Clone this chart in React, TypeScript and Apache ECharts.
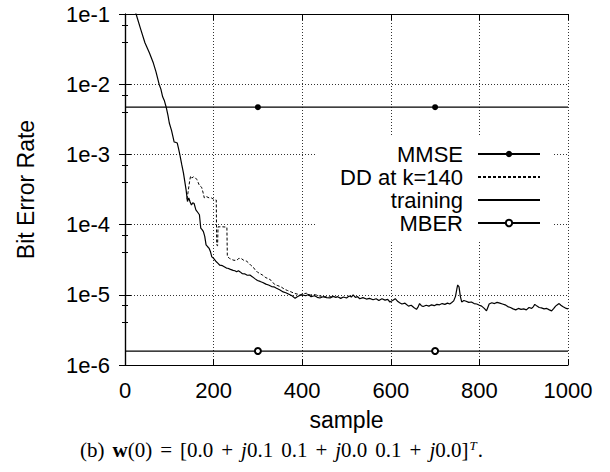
import React, { useEffect, useRef } from "react";
import * as echarts from "echarts";

const seriesNames = ["MMSE", "DD at k=140", "training", "MBER"];
const xTicks = [0, 200, 400, 600, 800, 1000];
const yMin = 1e-6;
const yMax = 1e-1;

const mmseLevel = 0.0047;
const mberLevel = 0.00000158;
const markerSamples = [300, 700];

const training: [number, number][] = [
  [0, 0.3], [12, 0.17], [25, 0.1], [35, 0.062], [45, 0.039], [55, 0.028], [64, 0.02], [70, 0.015],
  [77, 0.01], [81, 0.0085], [85, 0.0066], [89, 0.0058], [93, 0.0047], [97, 0.0036], [100, 0.0028],
  [105, 0.0022], [111, 0.0015], [115, 0.00148], [118, 0.00145], [121, 0.0012], [124, 0.00098],
  [128, 0.00072], [132, 0.00054], [135, 0.00041], [138, 0.00031], [141, 0.000213], [144, 0.00024],
  [147, 0.00021], [150, 0.00019], [153, 0.000205], [156, 0.0002], [160, 0.000162], [164, 0.00015],
  [168, 0.000138], [171, 0.000089], [174, 0.000085], [177, 0.0000795], [180, 0.000068],
  [183, 0.0000513], [187, 0.000048], [190, 0.0000457], [193, 0.000041], [196, 0.0000347],
  [200, 0.000033], [205, 0.0000301], [210, 0.000028], [214, 0.0000264], [220, 0.000026],
  [225, 0.0000249], [229, 0.000024], [232, 0.0000239], [238, 0.000023], [244, 0.0000223],
  [248, 0.000022], [252, 0.0000213], [256, 0.000022], [260, 0.0000212], [265, 0.00002],
  [270, 0.0000199], [276, 0.000019], [282, 0.0000191], [288, 0.000018], [293, 0.000017],
  [299, 0.000016], [305, 0.0000155], [311, 0.000015], [318, 0.0000142], [324, 0.0000138],
  [331, 0.0000131], [336, 0.000013], [342, 0.0000124], [349, 0.0000118], [357, 0.000011],
  [363, 0.0000107], [370, 0.0000102], [377, 0.0000097], [384, 0.0000089], [388, 0.0000093],
  [392, 0.0000096], [396, 0.0000099], [400, 0.00001], [408, 0.0000097], [414, 0.0000101],
  [420, 0.0000094], [428, 0.0000097], [434, 0.0000092], [440, 0.000009], [447, 0.0000094],
  [455, 0.0000091], [463, 0.000009], [470, 0.0000095], [476, 0.0000092], [480, 0.0000094],
  [487, 0.0000089], [493, 0.0000093], [500, 0.000009], [506, 0.0000096], [511, 0.0000093],
  [515, 0.00001], [520, 0.0000092], [525, 0.0000094], [530, 0.0000088], [537, 0.0000091],
  [545, 0.0000087], [552, 0.0000089], [560, 0.0000085], [567, 0.0000088], [573, 0.0000083],
  [580, 0.0000088], [587, 0.0000084], [593, 0.0000086], [598, 0.0000079], [604, 0.0000083],
  [610, 0.0000088], [616, 0.000008], [620, 0.0000077], [625, 0.0000074], [632, 0.0000076],
  [640, 0.0000069], [646, 0.0000071], [652, 0.0000066], [658, 0.0000062], [662, 0.0000068],
  [665, 0.0000075], [669, 0.000007], [673, 0.0000068], [680, 0.0000071], [686, 0.0000069],
  [692, 0.0000072], [698, 0.000007], [704, 0.0000073], [710, 0.0000072], [716, 0.0000075],
  [722, 0.0000073], [728, 0.0000076], [733, 0.0000074], [737, 0.0000077], [742, 0.0000082],
  [746, 0.0000095], [749, 0.000012], [751, 0.0000138], [754, 0.000013], [757, 0.0000095],
  [760, 0.0000079], [765, 0.0000083], [770, 0.0000081], [776, 0.0000078], [782, 0.0000079],
  [788, 0.0000075], [794, 0.0000074], [800, 0.0000071], [805, 0.0000069], [811, 0.0000064],
  [816, 0.0000059], [819, 0.0000066], [822, 0.0000074], [828, 0.0000077], [834, 0.0000075],
  [840, 0.0000078], [846, 0.0000076], [852, 0.0000074], [858, 0.0000072], [864, 0.0000068],
  [870, 0.0000066], [876, 0.0000063], [882, 0.0000061], [888, 0.0000064], [894, 0.0000062],
  [900, 0.0000063], [906, 0.0000061], [912, 0.0000066], [918, 0.0000064], [922, 0.0000068],
  [925, 0.0000073], [930, 0.0000069], [935, 0.0000066], [940, 0.0000065], [946, 0.0000063],
  [952, 0.0000064], [958, 0.0000061], [963, 0.0000059], [968, 0.0000064], [972, 0.0000069],
  [976, 0.0000072], [980, 0.0000075], [984, 0.0000071], [988, 0.0000068], [992, 0.0000066],
  [996, 0.0000064], [1000, 0.0000063],
];

const ddAt140: [number, number][] = [
  [140, 0.00023], [143, 0.00031], [146, 0.00042], [148, 0.00049], [151, 0.00046], [154, 0.00048],
  [158, 0.00047], [162, 0.00044], [165, 0.0004], [168, 0.00036], [173, 0.00034], [176, 0.00029],
  [179, 0.00024], [184, 0.00025], [190, 0.00024], [195, 0.00024], [200, 0.00023], [206, 0.000224],
  [207, 0.000051], [209, 0.00005], [210, 0.000093], [220, 0.000093], [230, 0.000092],
  [231, 0.000035], [236, 0.000033], [240, 0.000032], [246, 0.000031], [252, 0.000031],
  [257, 0.000033], [262, 0.000033], [268, 0.000031], [275, 0.00003], [280, 0.000028],
  [285, 0.000026], [289, 0.000025], [293, 0.000023], [299, 0.000021], [305, 0.00002],
  [311, 0.000019], [318, 0.0000175], [324, 0.000017], [330, 0.000016], [338, 0.000014],
  [345, 0.0000135], [352, 0.000013], [360, 0.000012], [367, 0.0000115], [375, 0.000011],
  [382, 0.0000105], [390, 0.0000102], [396, 0.00001], [402, 0.0000104], [410, 0.0000105],
  [418, 0.0000099], [424, 0.0000101], [430, 0.00001], [440, 0.0000096], [450, 0.0000094],
  [460, 0.0000093], [470, 0.0000095],
];

const FONT = "Liberation Sans";
const SERIF = "Liberation Serif";

function levelData(level: number) {
  const pts: any[] = [{ value: [xTicks[0], level], symbol: "none" }];
  markerSamples.forEach((s) => pts.push({ value: [s, level] }));
  pts.push({ value: [xTicks[xTicks.length - 1], level], symbol: "none" });
  return pts;
}

export default function App() {
  const ref = useRef<HTMLDivElement>(null);
  useEffect(() => {
    if (!ref.current) return;
    const chart = echarts.init(ref.current, undefined, { renderer: "svg" });
    const gridLine = { show: true, lineStyle: { color: "#333", width: 1, type: [1, 2] as any } };
    const yFmt = (v: number) => `1e${Math.round(Math.log10(v))}`;
    const noSymbol = { opacity: 0, color: "transparent", borderWidth: 0 };
    const cs = 21;
    chart.setOption({
      animation: false,
      backgroundColor: "#fff",
      grid: { left: 125, right: 42, top: 14, bottom: 107 },
      legend: {
        data: [
          { name: seriesNames[0] },
          { name: seriesNames[1], itemStyle: noSymbol },
          { name: seriesNames[2], itemStyle: noSymbol },
          { name: seriesNames[3] },
        ],
        orient: "vertical",
        align: "right",
        right: 57,
        top: 137,
        itemWidth: 62,
        itemHeight: 8,
        itemGap: 1,
        padding: [6, 12, 6, 24],
        backgroundColor: "#fff",
        textStyle: { fontFamily: FONT, fontSize: 22, color: "#000", padding: [0, 10, 0, 0] },
      },
      xAxis: [
        {
          type: "value",
          min: 0,
          max: 1000,
          interval: 200,
          name: "sample",
          nameLocation: "middle",
          nameGap: 43,
          nameTextStyle: { fontFamily: FONT, fontSize: 23, color: "#000" },
          axisLine: { lineStyle: { color: "#000", width: 1.2 } },
          axisTick: { inside: true, length: 6, lineStyle: { color: "#000" } },
          axisLabel: {
            fontFamily: FONT,
            fontSize: 22,
            color: "#000",
            margin: 14,
            formatter: (v: number) => String(v),
          },
          splitLine: gridLine,
        },
        {
          type: "value",
          position: "top",
          min: 0,
          max: 1000,
          interval: 200,
          axisLine: { show: true, lineStyle: { color: "#000", width: 1.2 } },
          axisTick: { show: true, inside: true, length: 6, lineStyle: { color: "#000" } },
          axisLabel: { show: false },
          splitLine: { show: false },
        },
      ],
      yAxis: [
        {
          type: "log",
          min: yMin,
          max: yMax,
          logBase: 10,
          name: "Bit Error Rate",
          nameLocation: "middle",
          nameGap: 88,
          nameTextStyle: { fontFamily: FONT, fontSize: 23, color: "#000" },
          axisLine: { show: true, lineStyle: { color: "#000", width: 1.2 } },
          axisTick: { show: true, inside: true, length: 6, lineStyle: { color: "#000" } },
          minorTick: { show: true, splitNumber: 3, length: 3, lineStyle: { color: "#000" } },
          axisLabel: { fontFamily: FONT, fontSize: 22, color: "#000", margin: 15, formatter: yFmt },
          splitLine: gridLine,
        },
        {
          type: "log",
          min: yMin,
          max: yMax,
          logBase: 10,
          position: "right",
          axisLine: { show: true, lineStyle: { color: "#000", width: 1.2 } },
          axisTick: { show: true, inside: true, length: 6, lineStyle: { color: "#000" } },
          minorTick: { show: true, splitNumber: 3, length: 3, lineStyle: { color: "#000" } },
          axisLabel: { show: false },
          splitLine: { show: false },
        },
      ],
      series: [
        {
          name: seriesNames[0],
          type: "line",
          data: levelData(mmseLevel),
          symbol: "circle",
          symbolSize: 6,
          showAllSymbol: true,
          itemStyle: { color: "#000" },
          lineStyle: { color: "#000", width: 1.2 },
          z: 3,
        },
        {
          name: seriesNames[1],
          type: "line",
          data: ddAt140,
          symbol: "none",
          itemStyle: { color: "#000" },
          lineStyle: { color: "#000", width: 1, type: [3, 2] },
          z: 2,
        },
        {
          name: seriesNames[2],
          type: "line",
          data: training,
          symbol: "none",
          itemStyle: { color: "#000" },
          lineStyle: { color: "#000", width: 1.2 },
          z: 3,
        },
        {
          name: seriesNames[3],
          type: "line",
          data: levelData(mberLevel),
          symbol: "emptyCircle",
          symbolSize: 6,
          showAllSymbol: true,
          itemStyle: { color: "#000", borderColor: "#000", borderWidth: 1 },
          lineStyle: { color: "#000", width: 1.2 },
          z: 3,
        },
      ],
      graphic: [
        {
          type: "text",
          left: 80,
          top: 439,
          style: {
            text:
              "{n|(b)}{g| }{b|w}{n|(0)}{g| }{n|=}{g| }{n|[0.0}{g| }{n|+}{g| }{i|j}{n|0.1}{g| }{n|0.1}{g| }{n|+}{g| }{i|j}{n|0.0}{g| }{n|0.1}{g| }{n|+}{g| }{i|j}{n|0.0]}{s|T}{n|.}",
            rich: {
              n: { fontFamily: SERIF, fontSize: cs, fill: "#000" },
              g: { fontFamily: SERIF, fontSize: cs, width: 8 },
              b: { fontFamily: SERIF, fontSize: cs, fontWeight: "bold", fill: "#000" },
              i: { fontFamily: SERIF, fontSize: cs, fontStyle: "italic", fill: "#000" },
              s: {
                fontFamily: SERIF,
                fontSize: 13,
                fontStyle: "italic",
                fill: "#000",
                verticalAlign: "top",
                padding: [0, 1, 9, 1],
              },
            },
          },
        },
      ],
    });
    return () => chart.dispose();
  }, []);
  return (
    <div
      ref={ref}
      style={{ position: "fixed", left: 0, top: 0, width: 610, height: 472, background: "#fff" }}
    />
  );
}
